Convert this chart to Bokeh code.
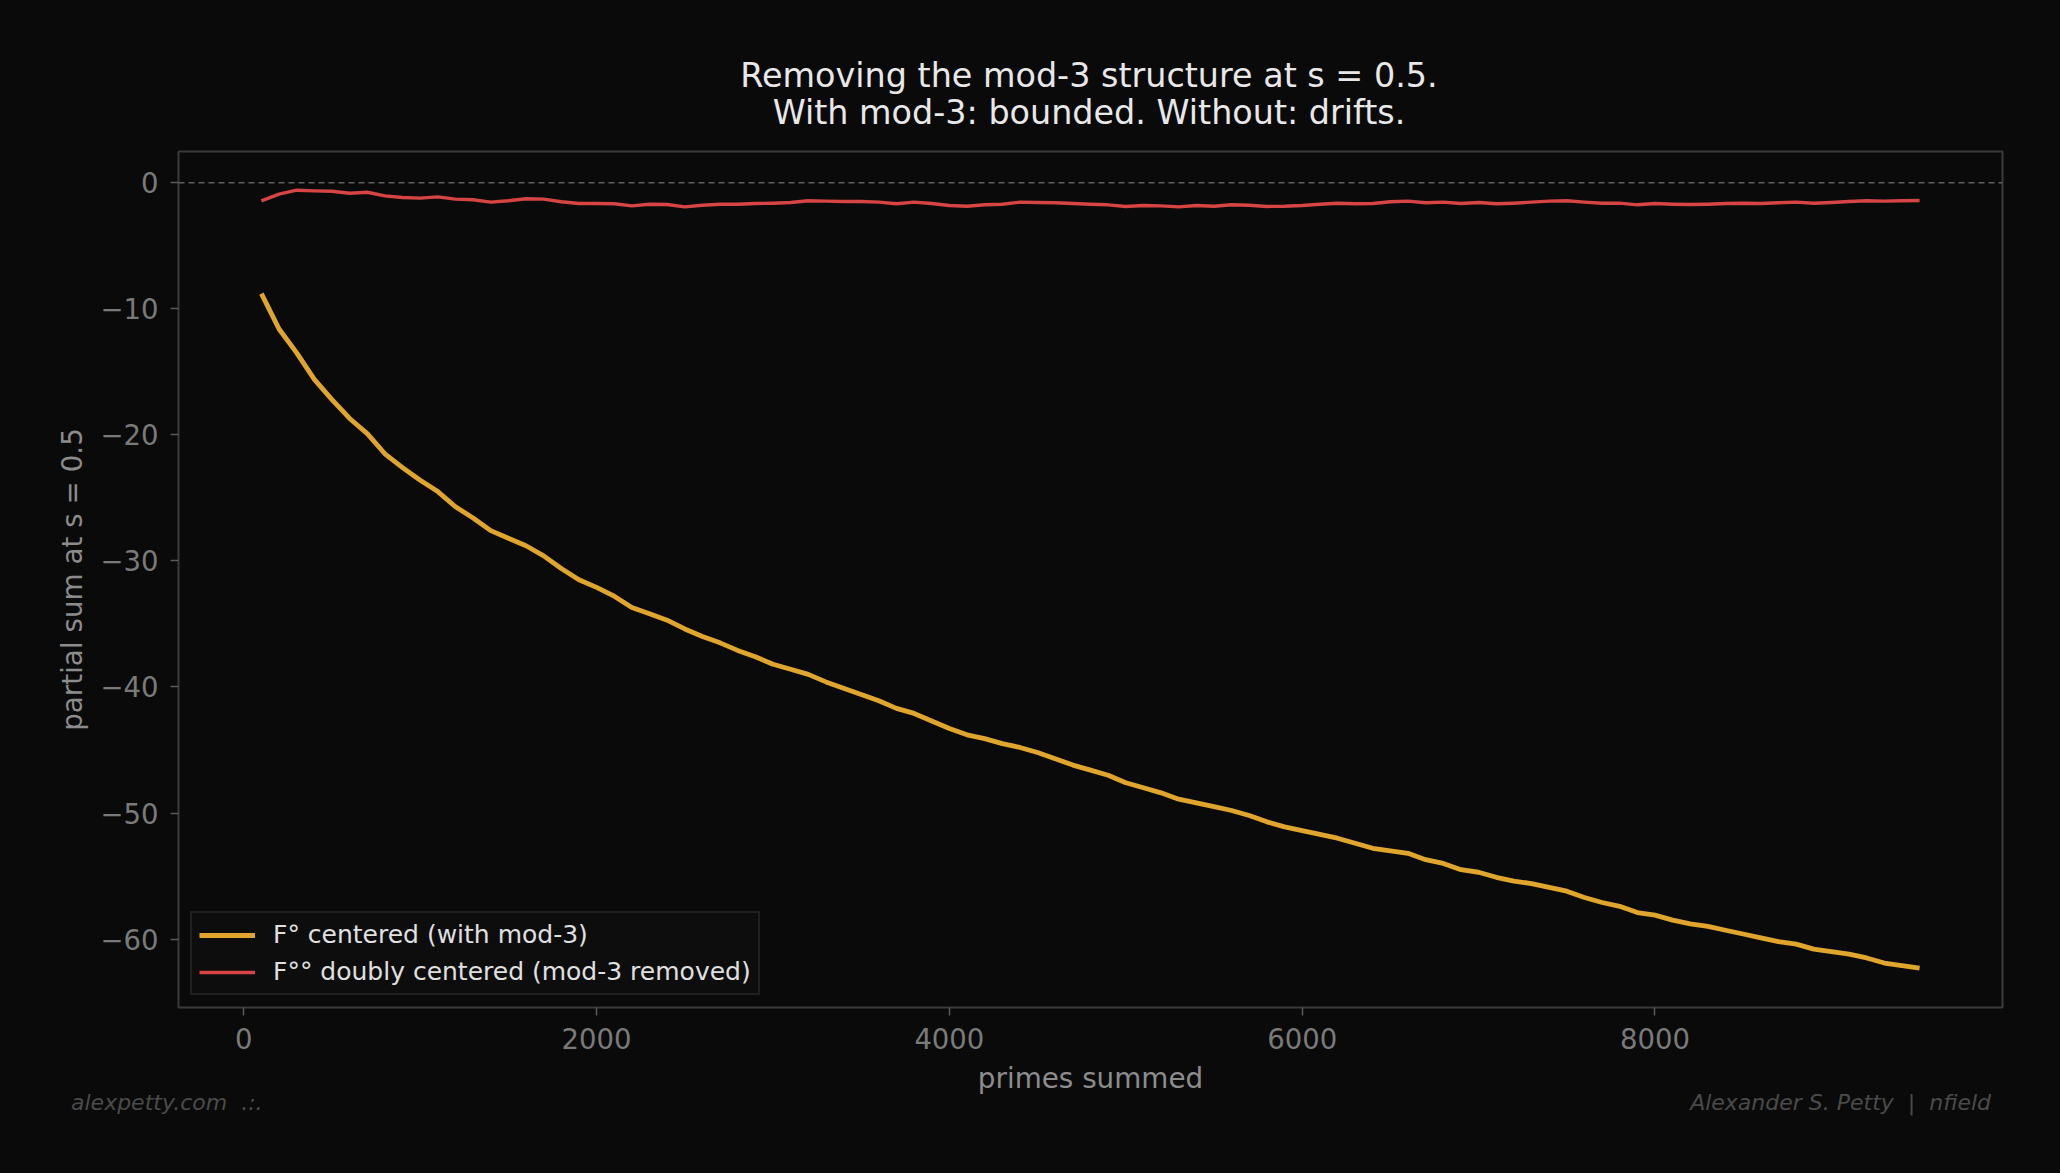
from bokeh.plotting import figure
from bokeh.models import Range1d, FixedTicker, Span, Legend, Div
from bokeh.layouts import column
from bokeh.embed import file_html
from bokeh.resources import INLINE

# ---- data ----
primes_summed = list(range(100, 9600, 100))

f_centered = [
    -8.8, -11.6, -13.5, -15.6, -17.2, -18.7, -19.9, -21.5, -22.6, -23.6,
    -24.5, -25.7, -26.6, -27.6, -28.2, -28.8, -29.6, -30.6, -31.5, -32.1,
    -32.8, -33.7, -34.2, -34.7, -35.4, -36.0, -36.5, -37.1, -37.6, -38.2,
    -38.6, -39.0, -39.6, -40.1, -40.6, -41.1, -41.7, -42.1, -42.7, -43.3,
    -43.8, -44.1, -44.5, -44.8, -45.2, -45.7, -46.2, -46.6, -47.0, -47.6,
    -48.0, -48.4, -48.9, -49.2, -49.5, -49.8, -50.2, -50.7, -51.1, -51.4,
    -51.7, -52.0, -52.4, -52.8, -53.0, -53.2, -53.7, -54.0, -54.5, -54.7,
    -55.1, -55.4, -55.6, -55.9, -56.2, -56.7, -57.1, -57.4, -57.9, -58.1,
    -58.5, -58.8, -59.0, -59.3, -59.6, -59.9, -60.2, -60.4, -60.8, -61.0,
    -61.2, -61.5, -61.9, -62.1, -62.3,
]

f_doubly = [
    -1.43, -0.90, -0.59, -0.64, -0.67, -0.83, -0.75, -1.04, -1.17, -1.22,
    -1.12, -1.30, -1.35, -1.54, -1.43, -1.27, -1.30, -1.51, -1.65, -1.65,
    -1.67, -1.83, -1.70, -1.72, -1.91, -1.78, -1.70, -1.70, -1.65, -1.62,
    -1.57, -1.43, -1.46, -1.49, -1.49, -1.54, -1.67, -1.54, -1.65, -1.80,
    -1.86, -1.75, -1.70, -1.54, -1.57, -1.59, -1.65, -1.70, -1.75, -1.88,
    -1.80, -1.83, -1.91, -1.80, -1.86, -1.75, -1.78, -1.88, -1.86, -1.80,
    -1.70, -1.62, -1.67, -1.65, -1.51, -1.46, -1.59, -1.54, -1.65, -1.57,
    -1.67, -1.62, -1.54, -1.46, -1.43, -1.54, -1.62, -1.62, -1.75, -1.65,
    -1.70, -1.72, -1.70, -1.65, -1.62, -1.65, -1.59, -1.54, -1.62, -1.57,
    -1.49, -1.43, -1.46, -1.43, -1.41,
]

x_ticks = [0, 2000, 4000, 6000, 8000]
y_ticks = [0, -10, -20, -30, -40, -50, -60]
y_tick_labels = {t: ("\u2212" + str(-t) if t < 0 else str(t)) for t in y_ticks}

title_lines = ["Removing the mod-3 structure at s = 0.5.",
               "With mod-3: bounded. Without: drifts."]
label_a = "F\u00b0 centered (with mod-3)"
label_b = "F\u00b0\u00b0 doubly centered (mod-3 removed)"
footer_left = "alexpetty.com&nbsp;&nbsp;.:."
footer_right = "Alexander S. Petty&nbsp;&nbsp;|&nbsp;&nbsp;nfield"

X0, X1 = -370, 9970
Y0, Y1 = -65.43, 2.48

BG = "#0a0a0a"
FONT = "DejaVu Sans"
W = 2052
HEAD_H = 135

p = figure(
    width=W, height=1100 - HEAD_H,
    x_range=Range1d(X0, X1), y_range=Range1d(Y0, Y1),
    output_backend="svg", toolbar_location=None,
    background_fill_color=BG, border_fill_color=BG,
    min_border_left=178, min_border_right=50,
    min_border_top=151 - HEAD_H, min_border_bottom=93,
)
p.title.text = ""
p.title.visible = False
p.outline_line_color = "#3a3a3a"
p.outline_line_width = 2
p.xgrid.visible = False
p.ygrid.visible = False

for ax in (p.xaxis[0], p.yaxis[0]):
    ax.axis_line_color = None
    ax.major_tick_line_color = "#5a5a5a"
    ax.major_tick_line_width = 1.5
    ax.major_tick_out = 8
    ax.major_tick_in = 0
    ax.minor_tick_line_color = None
    ax.major_label_text_color = "#7a7a7a"
    ax.major_label_text_font = FONT
    ax.major_label_text_font_size = "27.5px"
    ax.axis_label_text_color = "#8c8c8c"
    ax.axis_label_text_font = FONT
    ax.axis_label_text_font_size = "27.8px"
    ax.axis_label_text_font_style = "normal"

p.xaxis[0].ticker = FixedTicker(ticks=x_ticks)
p.xaxis[0].axis_label = "primes summed"
p.xaxis[0].major_label_standoff = 12
p.xaxis[0].axis_label_standoff = 10

p.yaxis[0].ticker = FixedTicker(ticks=y_ticks)
p.yaxis[0].major_label_overrides = y_tick_labels
p.yaxis[0].axis_label = "partial sum at s = 0.5"
p.yaxis[0].major_label_standoff = 12
p.yaxis[0].axis_label_standoff = 8

zero = Span(location=0, dimension="width", line_color="#5e5e5e",
            line_width=1.3, line_dash="6 4")
p.add_layout(zero)

ra = p.line(primes_summed, f_centered, line_color="#e0a52c", line_width=4.8,
            line_join="round")
rb = p.line(primes_summed, f_doubly, line_color="#d64444", line_width=3.4,
            line_join="round")

legend = Legend(items=[(label_a, [ra]), (label_b, [rb])], location="bottom_left")
legend.background_fill_color = "#0e0e0e"
legend.background_fill_alpha = 0.95
legend.border_line_color = "#333333"
legend.border_line_width = 2
legend.label_text_color = "#e0e0e0"
legend.label_text_font = FONT
legend.label_text_font_size = "25px"
legend.glyph_width = 56
legend.glyph_height = 28
legend.label_height = 28
legend.spacing = 8
legend.padding = 7
legend.label_standoff = 18
legend.margin = 12
p.add_layout(legend, "center")

# header: two centred title lines (centred over the plot frame)
header = Div(
    width=W, height=HEAD_H, margin=0,
    text=(
        '<div style="box-sizing:border-box;width:%dpx;margin:0;'
        'padding:57px 0 0 126px;text-align:center;'
        'font-family:\'DejaVu Sans\';font-size:33.4px;line-height:37px;'
        'color:#e8e8e8;">%s<br>%s</div>' % (W, title_lines[0], title_lines[1])
    ),
)

footer = Div(
    width=W, height=65, margin=0,
    text=(
        '<div style="display:flex;justify-content:space-between;'
        'box-sizing:border-box;width:%dpx;padding:0 61px 0 71px;margin:0;'
        'position:relative;top:-2px;'
        'font-family:\'DejaVu Sans\';font-style:italic;font-size:22px;'
        'line-height:8px;color:#4a4a4a;">'
        '<span>%s</span><span>%s</span></div>' % (W, footer_left, footer_right)
    ),
)

layout = column(header, p, footer, spacing=0)
layout.styles = {"background-color": BG}

html = file_html(layout, INLINE)
html = html.replace("<head>", "<head><style>html,body{background:#0a0a0a;}</style>", 1)
open("out.html", "w").write(html)
